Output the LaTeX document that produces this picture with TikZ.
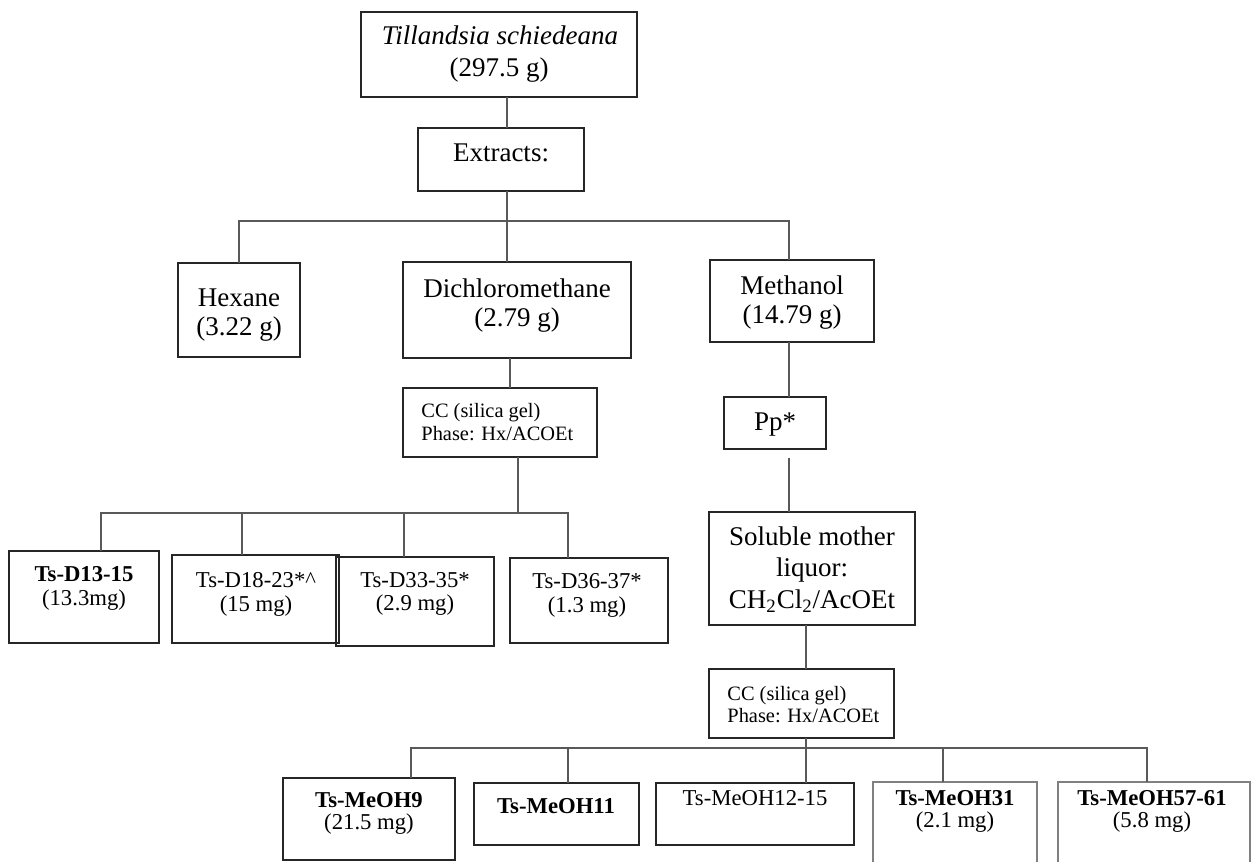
\documentclass[tikz,border=0pt]{standalone}
\usepackage{fontspec}
\setmainfont{Liberation Serif}
\begin{document}
\begin{tikzpicture}[x=0.5pt,y=-0.5pt]
\tikzset{
  boxst/.style={draw=black!85, line width=0.65pt, inner sep=0pt, outer sep=0pt, rectangle},
  grayb/.style={draw=black!50},
  conn/.style={draw=black!65, line width=0.65pt},
  big/.style={font=\fontsize{13.5}{15}\selectfont, inner sep=0pt, anchor=base},
  med/.style={font=\fontsize{11.35}{13}\selectfont, inner sep=0pt, anchor=base},
  sml/.style={font=\fontsize{10.2}{12}\selectfont, inner sep=0pt, anchor=base west},
}
\newcommand\mkbox[6]{\node[boxst,#6, minimum width={(#4-#2)*0.5pt}, minimum height={(#5-#3)*0.5pt}] (#1) at ({(#2+#4)/2},{(#3+#5)/2}) {};}
\clip (0,0) rectangle (1251,861);
\fill[white] (0,0) rectangle (1251,861);
% boxes
\mkbox{till}{361}{12}{637}{97}{}
\mkbox{ext}{418}{128}{584}{191}{}
\mkbox{hex}{178}{263}{300}{357}{}
\mkbox{dcm}{403}{262}{631}{358}{}
\mkbox{meth}{710}{260}{874}{342}{}
\mkbox{cca}{403}{388}{597}{457}{}
\mkbox{pp}{724}{397}{826}{449}{}
\mkbox{sol}{709}{512}{915}{625}{}
\mkbox{ccb}{709}{669}{894}{738}{}
\mkbox{da}{9}{551}{159}{643}{}
\mkbox{db}{172}{555}{339}{643}{}
\mkbox{dc}{336}{557}{494}{646}{}
\mkbox{dd}{510}{558}{668}{643}{}
\mkbox{ma}{283}{778}{455}{860}{}
\mkbox{mb}{474}{783}{639}{845}{}
\mkbox{mc}{656}{783}{854}{845}{}
\mkbox{md}{873}{782}{1037}{900}{grayb}
\mkbox{me}{1058}{782}{1250}{900}{grayb}
% texts
\node[big] (tillA) at (500,45) {\itshape Tillandsia schiedeana};
\node[big] (tillB) at (499,77) {(297.5 g)};
\node[big] (extA) at (501,162) {Extracts:};
\node[big] (hexA) at (239,306) {Hexane};
\node[big] (hexB) at (239,335) {(3.22 g)};
\node[big] (dcmA) at (517,297) {Dichloromethane};
\node[big] (dcmB) at (517,326) {(2.79 g)};
\node[big] (methA) at (792,294) {Methanol};
\node[big] (methB) at (792,323) {(14.79 g)};
\node[sml] (ccaA) at (421,417) {CC (silica gel)};
\node[sml] (ccaB) at (421,440) {Phase: Hx/ACOEt};
\node[big] (ppA) at (775,430) {Pp*};
\node[big] (solA) at (812,545) {Soluble mother};
\node[big] (solB) at (812,576) {liquor:};
\node[big] (solC) at (812,608) {CH\textsubscript{2}Cl\textsubscript{2}/AcOEt};
\node[sml] (ccbA) at (727,700) {CC (silica gel)};
\node[sml] (ccbB) at (727,722) {Phase: Hx/ACOEt};
\node[med] (daA) at (84,581) {\bfseries Ts-D13-15};
\node[med] (daB) at (84,605) {(13.3mg)};
\node[med] (dbA) at (256,587) {Ts-D18-23*\^{}};
\node[med] (dbB) at (256,611) {(15 mg)};
\node[med] (dcA) at (415,587) {Ts-D33-35*};
\node[med] (dcB) at (415,610) {(2.9 mg)};
\node[med] (ddA) at (587,588) {Ts-D36-37*};
\node[med] (ddB) at (587,612) {(1.3 mg)};
\node[med] (maA) at (369,807) {\bfseries Ts-MeOH9};
\node[med] (maB) at (369,829) {(21.5 mg)};
\node[med] (mbA) at (556,813) {\bfseries Ts-MeOH11};
\node[med] (mcA) at (755,805) {Ts-MeOH12-15};
\node[med] (mdA) at (955,805) {\bfseries Ts-MeOH31};
\node[med] (mdB) at (955,827) {(2.1 mg)};
\node[med] (meA) at (1152,805) {\bfseries Ts-MeOH57-61};
\node[med] (meB) at (1152,827) {(5.8 mg)};
% junction coordinates
\coordinate (j1) at (507,221);
\coordinate (hL) at (239,221);
\coordinate (hR) at (789,221);
\coordinate (c1) at (510,370);
\coordinate (j2) at (518,513);
\coordinate (dL) at (101,513);
\coordinate (d2) at (242,513);
\coordinate (d3) at (404,513);
\coordinate (dR) at (568,513);
\coordinate (pgap) at (789,458);
\coordinate (s1) at (806,650);
\coordinate (j3) at (806,748);
\coordinate (mL) at (411,748);
\coordinate (m2) at (568,748);
\coordinate (m4) at (943,748);
\coordinate (mR) at (1147,748);
% connectors
\draw[conn] (till.south -| j1) -- (ext.north -| j1);
\draw[conn] (ext.south -| j1) -- (dcm.north -| j1);
\draw[conn] (hex.north -| hL) -- (hL) -- (hR) -- (meth.north -| hR);
\draw[conn] (dcm.south -| c1) -- (cca.north -| c1);
\draw[conn] (cca.south -| j2) -- (j2);
\draw[conn] (da.north -| dL) -- (dL) -- (dR) -- (dd.north -| dR);
\draw[conn] (d2) -- (db.north -| d2);
\draw[conn] (d3) -- (dc.north -| d3);
\draw[conn] (meth.south -| hR) -- (pp.north -| hR);
\draw[conn] (pgap) -- (sol.north -| pgap);
\draw[conn] (sol.south -| s1) -- (ccb.north -| s1);
\draw[conn] (ccb.south -| j3) -- (j3);
\draw[conn] (ma.north -| mL) -- (mL) -- (mR) -- (me.north -| mR);
\draw[conn] (m2) -- (mb.north -| m2);
\draw[conn] (j3) -- (mc.north -| j3);
\draw[conn] (m4) -- (md.north -| m4);
\end{tikzpicture}
\end{document}
